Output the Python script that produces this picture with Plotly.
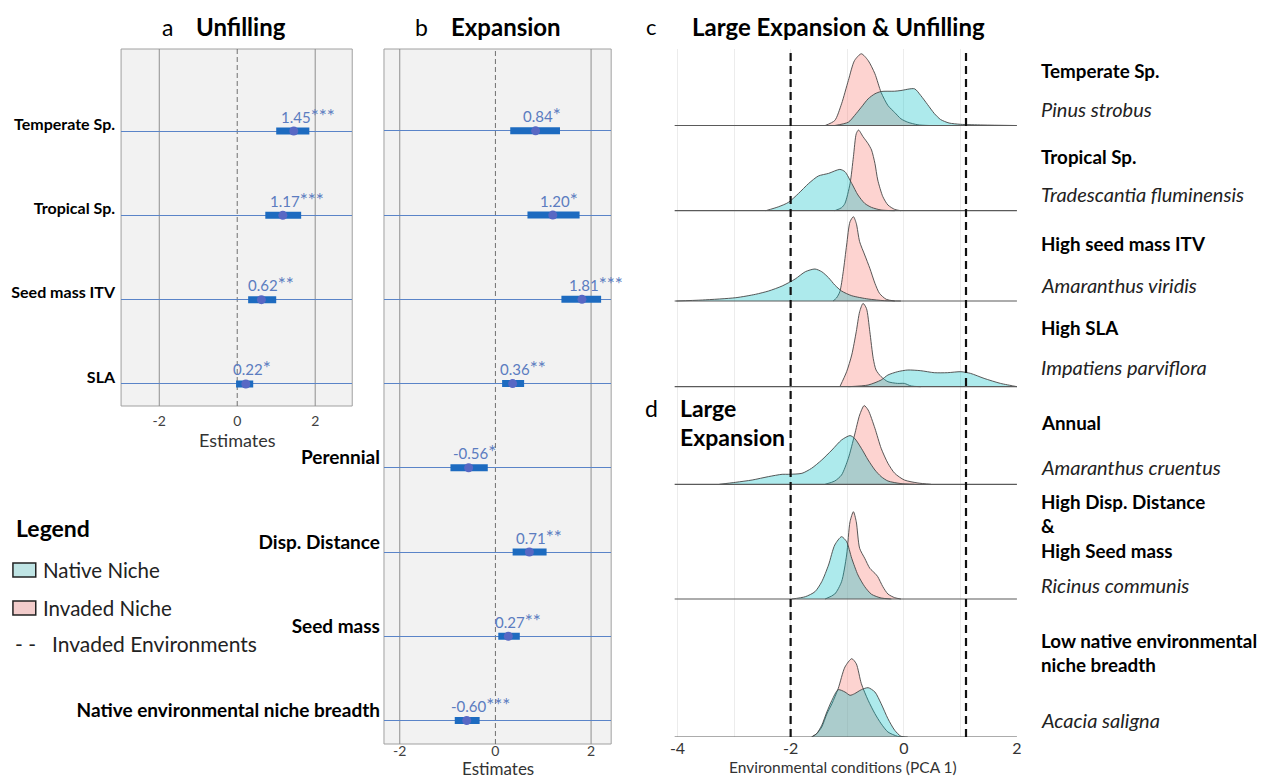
import plotly.graph_objects as go

W, H = 1263, 778
FONT = "Lato"

# ---------------- data: panel a (Unfilling) ----------------
unf_terms = ["SLA", "Seed mass ITV", "Tropical Sp.", "Temperate Sp."]
unf_est = [0.22, 0.62, 1.17, 1.45]
unf_lo = [-0.03, 0.28, 0.72, 1.00]
unf_hi = [0.41, 1.00, 1.64, 1.85]
unf_stars = ["*", "**", "***", "***"]

# ---------------- data: panel b (Expansion) ----------------
exp_terms = ["Native environmental niche breadth", "Seed mass", "Disp. Distance", "Perennial",
             "SLA", "Seed mass ITV", "Tropical Sp.", "Temperate Sp."]
exp_est = [-0.60, 0.27, 0.71, -0.56, 0.36, 1.81, 1.20, 0.84]
exp_lo = [-0.85, 0.06, 0.36, -0.94, 0.14, 1.38, 0.67, 0.31]
exp_hi = [-0.33, 0.51, 1.07, -0.16, 0.60, 2.21, 1.76, 1.35]
exp_stars = ["***", "**", "**", "*", "**", "***", "*", "*"]
exp_label_shown = [True, True, True, True, False, False, False, False]

est_ticks = [-2, 0, 2]

# ---------------- data: panels c/d (density ridges, PCA 1) ----------------
ridge_groups = ["Temperate Sp.", "Tropical Sp.", "High seed mass ITV", "High SLA", "Annual",
                "High Disp. Distance<br>&<br>High Seed mass",
                "Low native environmental<br>niche breadth"]
ridge_species = ["Pinus strobus", "Tradescantia fluminensis", "Amaranthus viridis",
                 "Impatiens parviflora", "Amaranthus cruentus", "Ricinus communis", "Acacia saligna"]

pinus_inv_x = [-1.39, -1.22, -1.10, -0.98, -0.87, -0.75, -0.63, -0.51, -0.40, -0.28, -0.16, -0.05, 0.07, 0.25, 0.45]
pinus_inv_y = [0, 5, 21.7, 45, 65, 71.7, 65, 51.7, 33, 20, 13, 6.7, 3.3, 0.7, 0]
pinus_nat_x = [-1.22, -0.98, -0.87, -0.75, -0.63, -0.51, -0.40, -0.16, -0.05, 0.19, 0.30, 0.42, 0.54, 0.65, 0.80, 1.00, 1.40, 1.97]
pinus_nat_y = [0, 3.3, 10, 18.3, 26.7, 31.7, 34, 34.3, 35, 36.7, 30, 21, 12, 6, 2.5, 1.2, 0.5, 0]

trad_inv_x = [-1.22, -1.10, -1.04, -0.95, -0.89, -0.84, -0.80, -0.72, -0.63, -0.57, -0.51, -0.46, -0.37, -0.28, -0.16, -0.05]
trad_inv_y = [0, 3, 7.3, 27, 54, 77, 80.7, 74, 67, 60.7, 47.3, 30.7, 14, 5.7, 1.3, 0]
trad_nat_x = [-2.44, -2.21, -2.04, -1.86, -1.68, -1.51, -1.33, -1.13, -1.04, -0.92, -0.81, -0.69, -0.57, -0.40, -0.16]
trad_nat_y = [0, 4, 8.3, 17.3, 27.3, 34.7, 37.3, 41.3, 39, 27.3, 15.7, 7.3, 3.3, 0.7, 0]

viridis_inv_x = [-1.25, -1.19, -1.13, -1.07, -1.01, -0.95, -0.89, -0.84, -0.78, -0.69, -0.60, -0.51, -0.43, -0.31, -0.16]
viridis_inv_y = [0, 3, 9.3, 29.3, 56, 79.3, 84.3, 77.7, 59.3, 46, 32.7, 17.7, 7.7, 1.7, 0]
viridis_nat_x = [-4.02, -3.56, -2.97, -2.62, -2.39, -2.15, -1.92, -1.74, -1.57, -1.45, -1.33, -1.22, -1.10, -0.92, -0.63, -0.34, -0.05]
viridis_nat_y = [0, 1, 3.3, 6.7, 10, 15, 22, 29.3, 32, 29.3, 23.3, 16, 10, 5.3, 2, 0.3, 0]

imp_inv_x = [-1.13, -1.01, -0.92, -0.84, -0.78, -0.72, -0.66, -0.60, -0.54, -0.49, -0.40, -0.28, -0.11, 0.01, 0.13, 0.30]
imp_inv_y = [0, 15, 31.7, 55, 75, 83.3, 78.3, 55, 28.3, 16.7, 10, 5, 3.3, 3.3, 0.7, 0]
imp_nat_x = [-0.98, -0.63, -0.40, -0.28, -0.11, 0.07, 0.30, 0.54, 0.77, 1.01, 1.18, 1.42, 1.71, 1.94, 2.0]
imp_nat_y = [0, 1.7, 6.7, 11.7, 15, 16.7, 16, 14, 14, 15, 13.3, 8.3, 3.3, 0.7, 0]

cru_inv_x = [-1.39, -1.22, -1.10, -0.98, -0.87, -0.78, -0.70, -0.63, -0.51, -0.40, -0.28, -0.16, 0.01, 0.25, 0.48]
cru_inv_y = [0, 3.3, 9.3, 26, 49.3, 69.3, 78.7, 74.3, 56, 36, 21, 11, 4.3, 1.3, 0]
cru_nat_x = [-3.26, -2.97, -2.68, -2.39, -2.15, -2.04, -1.80, -1.63, -1.45, -1.27, -1.10, -0.95, -0.87, -0.75, -0.63, -0.51, -0.40, -0.28, -0.05, 0.19]
cru_nat_y = [0, 2, 4.3, 7.7, 10, 10, 11, 16, 24.3, 34.3, 44.3, 48.7, 46, 36, 24.3, 14.3, 7.7, 3.3, 0.7, 0]

ric_inv_x = [-1.39, -1.22, -1.10, -1.01, -0.95, -0.89, -0.84, -0.78, -0.69, -0.60, -0.51, -0.46, -0.37, -0.28, -0.16, -0.05]
ric_inv_y = [0, 5, 17.3, 44, 77.3, 87.3, 77.3, 50.7, 40.7, 30.7, 25.7, 22.3, 12.3, 5, 1.3, 0]
ric_nat_x = [-1.98, -1.74, -1.57, -1.45, -1.33, -1.22, -1.10, -1.01, -0.92, -0.81, -0.69, -0.57, -0.40, -0.22]
ric_nat_y = [0, 2.3, 7.3, 17.3, 34, 54, 62.3, 57.3, 40.7, 24, 12.3, 4.7, 1, 0]

aca_inv_x = [-1.63, -1.54, -1.45, -1.36, -1.27, -1.16, -1.04, -0.92, -0.84, -0.75, -0.63, -0.51, -0.40, -0.28, -0.11, 0.01]
aca_inv_y = [0, 3.3, 10, 23, 33.3, 48.3, 70, 78.3, 73.3, 53.3, 36.7, 23.3, 13.3, 5, 0.7, 0]
aca_nat_x = [-1.63, -1.54, -1.45, -1.36, -1.27, -1.16, -1.04, -0.95, -0.87, -0.75, -0.63, -0.51, -0.40, -0.28, -0.16, -0.05, 0.07]
aca_nat_y = [0, 3.3, 11.7, 25, 36.7, 47.3, 45, 41.7, 43.3, 47.3, 49.3, 45, 33.3, 18.3, 6.7, 0.7, 0]

invaded_env_bounds = [-2.0, 1.1]
pca_ticks = [-4, -2, 0, 2]
pca_minor = [-3, -1, 1]

native_curves = [(pinus_nat_x, pinus_nat_y), (trad_nat_x, trad_nat_y), (viridis_nat_x, viridis_nat_y),
                 (imp_nat_x, imp_nat_y), (cru_nat_x, cru_nat_y), (ric_nat_x, ric_nat_y), (aca_nat_x, aca_nat_y)]
invaded_curves = [(pinus_inv_x, pinus_inv_y), (trad_inv_x, trad_inv_y), (viridis_inv_x, viridis_inv_y),
                  (imp_inv_x, imp_inv_y), (cru_inv_x, cru_inv_y), (ric_inv_x, ric_inv_y), (aca_inv_x, aca_inv_y)]

# ---------------- layout constants (pixels) ----------------
A_X = (117, 350); A_Y = (49, 406)
B_X = (382, 611); B_Y = (49, 744)
C_X = (675, 1020); C_Y = (49, 737)
ridge_base_px = [125.5, 210.7, 301, 386.7, 484.3, 599, 737]
group_y_px = [70, 156, 243, 328, 422, 526, 652]
species_y_px = [109, 194, 285, 367, 467, 585, 720]

BAR = "#1d6bc0"
DOT = "#5868c4"
LBL = "#5b7cc0"
ROWLINE = "#5a84c8"
NAT_FILL = "rgba(0,191,196,0.32)"
INV_FILL = "rgba(248,118,109,0.32)"
OUTLINE = "rgba(70,70,70,0.9)"


def px_x(x):
    return x / W


def px_y(y):
    return 1 - y / H


fig = go.Figure()
annotations = []
shapes = []


def ann(text, x, y, size, anchor="left", color="#000000", **kw):
    annotations.append(dict(text=text, x=px_x(x), y=px_y(y), xref="paper", yref="paper",
                            xanchor=anchor, yanchor="middle", showarrow=False, align="left",
                            font=dict(family=FONT, size=size, color=color), **kw))


def num_width(s, size):
    w = 0
    for ch in s:
        w += 0.27 if ch == "." else (0.35 if ch == "-" else 0.58)
    return w * size


# ---------------- panels a and b (forest plots) ----------------
def forest(est, lo, hi, stars, xa, ya, nrows):
    rows = list(range(1, nrows + 1))
    fig.add_trace(go.Scatter(
        x=est, y=rows, mode="markers", xaxis=xa, yaxis=ya, hoverinfo="skip", showlegend=False,
        marker=dict(color=DOT, size=9),
        error_x=dict(type="data", symmetric=False,
                     array=[h - e for h, e in zip(hi, est)],
                     arrayminus=[e - l for e, l in zip(est, lo)],
                     thickness=7, width=0, color=BAR)))
    for e, s, r in zip(est, stars, rows):
        num = f"{e:.2f}"
        annotations.append(dict(text=num + f"<span style='font-size:19px'>{s}</span>",
                                x=e, y=r, xref=xa, yref=ya, xanchor="left",
                                yanchor="middle", showarrow=False, yshift=16,
                                xshift=-num_width(num, 15) / 2,
                                font=dict(family=FONT, size=15, color=LBL)))
    shapes.append(dict(type="rect", xref=f"{xa} domain", yref=f"{ya} domain", x0=0, x1=1, y0=0, y1=1,
                       fillcolor="#f2f2f2", line=dict(color="#a0a0a0", width=1), layer="below"))
    for t in est_ticks:
        shapes.append(dict(type="line", xref=xa, yref=f"{ya} domain", x0=t, x1=t, y0=0, y1=1,
                           line=dict(color="#707070" if t == 0 else "#8f8f8f", width=1,
                                     dash="5px,3px" if t == 0 else "solid"),
                           layer="below"))


forest(unf_est, unf_lo, unf_hi, unf_stars, "x", "y", 4)
forest(exp_est, exp_lo, exp_hi, exp_stars, "x2", "y2", 8)

# ---------------- panels c/d (ridges) ----------------
for i in range(len(ridge_species)):
    base = H - ridge_base_px[i]
    for (xs, ys), fillc in ((invaded_curves[i], INV_FILL), (native_curves[i], NAT_FILL)):
        fig.add_trace(go.Scatter(
            x=xs, y=[base + v for v in ys], mode="lines", fill="toself", fillcolor=fillc,
            line=dict(color=OUTLINE, width=1, shape="spline", smoothing=0.7),
            xaxis="x3", yaxis="y3", hoverinfo="skip", showlegend=False))
    shapes.append(dict(type="line", xref="x3 domain", yref="y3", x0=0, x1=1, y0=base, y1=base,
                       line=dict(color="#5a5a5a", width=1.2), layer="above"))

for v in invaded_env_bounds:
    shapes.append(dict(type="line", xref="x3", yref="y3 domain", x0=v, x1=v, y0=0, y1=1,
                       line=dict(color="#111111", width=2.2, dash="8px,5px"), layer="above"))

# right-hand labels
for g, gy in zip(ridge_groups, group_y_px):
    ann(f"<b>{g}</b>", 1042, gy, 18.8)
for s, sy in zip(ridge_species, species_y_px):
    ann(f"<i>{s}</i>", 1042, sy, 20, color="#222222")

# ---------------- titles ----------------
ann("a", 164, 27, 23, anchor="center")
ann("<b>Unfilling</b>", 191, 27, 24)
ann("b", 420, 27, 23, anchor="center")
ann("<b>Expansion</b>", 448, 27, 24)
ann("c", 652, 27, 22, anchor="center")
ann("<b>Large Expansion &amp; Unfilling</b>", 690, 27, 24)
ann("d", 652, 408, 23, anchor="center")
ann("<b>Large</b>", 678, 408, 23)
ann("<b>Expansion</b>", 678, 437, 23)

# axis titles
ann("Estimates", 234, 440, 18, anchor="center", color="#333333")
ann("Estimates", 497, 768, 17, anchor="center", color="#333333")
ann("Environmental conditions (PCA 1)", 845, 767, 15.5, anchor="center", color="#333333")

# ---------------- manual legend ----------------
ann("<b>Legend</b>", 9, 528, 23)
shapes.append(dict(type="rect", xref="paper", yref="paper", x0=px_x(8), x1=px_x(31), y0=px_y(577), y1=px_y(563),
                   fillcolor="#bfe4e4", line=dict(color="#222222", width=1.5)))
shapes.append(dict(type="rect", xref="paper", yref="paper", x0=px_x(8), x1=px_x(31), y0=px_y(615), y1=px_y(601),
                   fillcolor="#f2cccb", line=dict(color="#222222", width=1.5)))
ann("Native Niche", 36, 570, 20.5, color="#222222")
ann("Invaded Niche", 36, 608, 20.5, color="#222222")
ann("- -", 8, 643, 21, color="#222222")
ann("Invaded Environments", 45, 643, 21, color="#222222")

# ---------------- axes ----------------
tickfont_est = dict(family=FONT, size=14, color="#404040")
fig.update_layout(
    width=W, height=H, autosize=False,
    margin=dict(l=0, r=0, t=0, b=0),
    paper_bgcolor="white", plot_bgcolor="rgba(0,0,0,0)",
    showlegend=False,
    font=dict(family=FONT),
    xaxis=dict(domain=[px_x(A_X[0]), px_x(A_X[1])], range=[-2.98, 2.95], anchor="y",
               tickvals=est_ticks, ticktext=[str(t) for t in est_ticks], showgrid=False,
               zeroline=False, showline=False, ticks="", tickfont=tickfont_est, ticklabelstandoff=5),
    yaxis=dict(domain=[px_y(A_Y[1]), px_y(A_Y[0])], range=[0.739, 4.973], anchor="x",
               tickvals=list(range(1, 5)), ticktext=unf_terms, showgrid=True, gridcolor=ROWLINE,
               gridwidth=1, zeroline=False, showline=False, ticks="", ticklabelshift=-7,
               ticklabelstandoff=5,
               tickfont=dict(family=FONT, size=16, color="#000000", weight="bold")),
    xaxis2=dict(domain=[px_x(B_X[0]), px_x(B_X[1])], range=[-2.33, 2.42], anchor="y2",
                tickvals=est_ticks, ticktext=[str(t) for t in est_ticks], showgrid=False,
                zeroline=False, showline=False, ticks="", tickfont=tickfont_est, ticklabelstandoff=-3),
    yaxis2=dict(domain=[px_y(B_Y[1]), px_y(B_Y[0])], range=[0.721, 8.972], anchor="x2",
                tickvals=list(range(1, 9)),
                ticktext=[t if s else "" for t, s in zip(exp_terms, exp_label_shown)],
                showgrid=True, gridcolor=ROWLINE, gridwidth=1, zeroline=False, showline=False,
                ticks="", ticklabelshift=-10, ticklabelstandoff=3,
                tickfont=dict(family=FONT, size=19, color="#000000", weight="bold")),
    xaxis3=dict(domain=[px_x(C_X[0]), px_x(C_X[1])], range=[-4.05, 2.0], anchor="y3",
                tickvals=pca_ticks, ticktext=[str(t) for t in pca_ticks],
                showgrid=True, gridcolor="#ececec", gridwidth=1,
                minor=dict(tickvals=pca_minor, showgrid=True, gridcolor="#ececec", gridwidth=1),
                zeroline=False, showline=False, ticks="",
                tickfont=dict(family=FONT, size=16, color="#333333"), ticklabelstandoff=0),
    yaxis3=dict(domain=[px_y(C_Y[1]), px_y(C_Y[0])], range=[H - C_Y[1], H - C_Y[0]], anchor="x3",
                showgrid=False, zeroline=False, showline=False, showticklabels=False, ticks=""),
    annotations=annotations,
    shapes=shapes,
)

fig.write_html("out.html", config={"displayModeBar": False},
               post_script="document.body.style.margin='0';document.body.style.overflow='hidden';")
